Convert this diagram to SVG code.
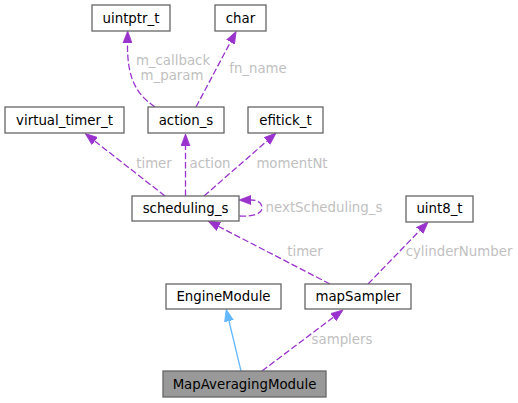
<svg xmlns="http://www.w3.org/2000/svg" width="518" height="403" viewBox="0 0 518 403">
<style>
  .node rect { fill: #ffffff; stroke: #666666; stroke-width: 1.3; }
  .node.main rect { fill: #999999; }
  .node text { font-family: "DejaVu Sans", sans-serif; font-size: 13.33px; fill: #000000; text-anchor: middle; }
  .edge { fill: none; stroke: #9a32cd; stroke-width: 1.3; stroke-dasharray: 6.5,2.7; }
  .inh { fill: none; stroke: #63b8ff; stroke-width: 1.3; }
  .lbl { font-family: "DejaVu Sans", sans-serif; font-size: 13.33px; fill: #bfbfbf; text-anchor: middle; }
</style>
<defs>
  <marker id="ap" markerUnits="userSpaceOnUse" markerWidth="13" markerHeight="10" refX="0" refY="4.5" orient="auto" viewBox="0 0 13 9">
    <path d="M0,0 L12,4.5 L0,9 z" fill="#9a32cd" stroke="#9a32cd" stroke-width="0.8"/>
  </marker>
  <marker id="ab" markerUnits="userSpaceOnUse" markerWidth="13" markerHeight="10" refX="0" refY="4.5" orient="auto" viewBox="0 0 13 9">
    <path d="M0,0 L12,4.5 L0,9 z" fill="#63b8ff" stroke="#63b8ff" stroke-width="0.8"/>
  </marker>
</defs>
<rect width="518" height="403" fill="#ffffff"/>
<g id="connectors">
  <path class="edge" d="M155,107 C136,94 127,78 127.5,43" marker-end="url(#ap)"/>
  <text class="lbl" x="173" y="65">m_callback</text>
  <text class="lbl" x="172" y="79.5">m_param</text>
  <path class="edge" d="M196,107 L230.5,42" marker-end="url(#ap)"/>
  <text class="lbl" x="258" y="72.5">fn_name</text>
  <path class="edge" d="M165,196 L94.7,141" marker-end="url(#ap)"/>
  <text class="lbl" x="154" y="167.5">timer</text>
  <path class="edge" d="M185.5,196 L185.5,146" marker-end="url(#ap)"/>
  <text class="lbl" x="210" y="167.5">action</text>
  <path class="edge" d="M204,196 L267,141" marker-end="url(#ap)"/>
  <text class="lbl" x="292" y="167.5">momentNt</text>
  <path class="edge" d="M239.5,216 C252,217 262,214 262,208 C262,203 258,200 251,200" marker-end="url(#ap)"/>
  <text class="lbl" x="324" y="211.5">nextScheduling_s</text>
  <path class="edge" d="M330,284 L218.7,226.5" marker-end="url(#ap)"/>
  <text class="lbl" x="305" y="255.5">timer</text>
  <path class="edge" d="M368,284 L419.7,230.6" marker-end="url(#ap)"/>
  <text class="lbl" x="459" y="256">cylinderNumber</text>
  <path class="inh" d="M241,371 L229,321" marker-end="url(#ab)"/>
  <path class="edge" d="M262,371 L333.4,317.2" marker-end="url(#ap)"/>
  <text class="lbl" x="342" y="343.5">samplers</text>
</g>
<g id="uintptr_t" class="node"><rect x="92" y="5" width="78" height="26"/><text x="131" y="22.5">uintptr_t</text></g>
<g id="char" class="node"><rect x="215" y="5" width="51" height="26"/><text x="240.5" y="22.5">char</text></g>
<g id="virtual_timer_t" class="node"><rect x="5" y="107" width="119" height="26"/><text x="64.5" y="124.5">virtual_timer_t</text></g>
<g id="action_s" class="node"><rect x="148" y="107" width="76" height="26"/><text x="186" y="124.5">action_s</text></g>
<g id="efitick_t" class="node"><rect x="248" y="107" width="75" height="26"/><text x="285.5" y="124.5">efitick_t</text></g>
<g id="scheduling_s" class="node"><rect x="132" y="196" width="107" height="25"/><text x="185.5" y="212.8">scheduling_s</text></g>
<g id="uint8_t" class="node"><rect x="406" y="196" width="67" height="26"/><text x="439.5" y="213.3">uint8_t</text></g>
<g id="EngineModule" class="node"><rect x="166" y="284" width="115" height="25"/><text x="223.5" y="301">EngineModule</text></g>
<g id="mapSampler" class="node"><rect x="305" y="284" width="106" height="25"/><text x="358" y="301">mapSampler</text></g>
<g id="MapAveragingModule" class="node main"><rect x="163" y="371" width="163" height="26"/><text x="244.5" y="388.5">MapAveragingModule</text></g>
</svg>
